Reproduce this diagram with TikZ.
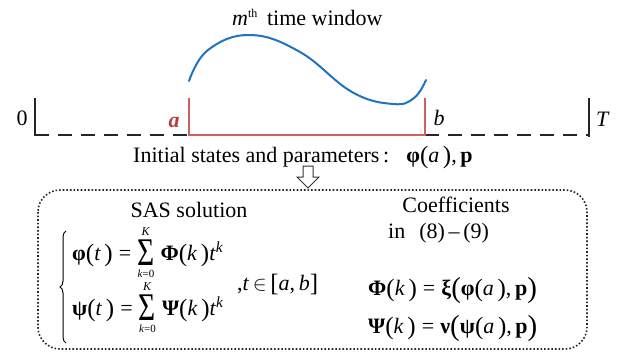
\documentclass[tikz,border=0pt]{standalone}
\usepackage{amsmath}
\usepackage{graphicx}
\usepackage{fontspec}
\setmainfont{Liberation Serif}
\usetikzlibrary{decorations.pathreplacing}
\definecolor{winred}{RGB}{208,96,96}
\definecolor{labred}{RGB}{185,60,60}
\definecolor{curveblue}{RGB}{32,115,192}
\newcommand\mysum{\mathop{\raisebox{-5pt}{\scalebox{1.05}[1.4]{\fontsize{28}{28}\selectfont Σ}}}\limits_{\hbox{\fontsize{11}{11}\selectfont\textit{k}=0}}^{\hbox{\fontsize{12}{12}\selectfont\textit{K}}}}
\newcommand\LP{{\fontsize{25}{25}\selectfont\raisebox{-1pt}{(}}}
\newcommand\RP{{\fontsize{25}{25}\selectfont\raisebox{-1pt}{)}}}
\newcommand\LB{{\fontsize{25}{25}\selectfont\raisebox{-1pt}{[}}}
\newcommand\RB{{\fontsize{25}{25}\selectfont\raisebox{-1pt}{]}}}
\newcommand\OLP{{\fontsize{29}{29}\selectfont\raisebox{-2pt}{(}}}
\newcommand\ORP{{\fontsize{29}{29}\selectfont\raisebox{-2pt}{)}}}
\begin{document}
\begin{tikzpicture}[x=1pt,y=-1pt,
  txt/.style={inner sep=0pt,font=\fontsize{22}{26}\selectfont},
  blk/.style={line width=2pt,black!85},
  dsh/.style={line width=2pt,black!85,dash pattern=on 14pt off 9pt},
  redl/.style={line width=1.6pt,winred},
  dotbox/.style={line width=1.6pt,dotted,black!85,rounded corners=22pt}]
\useasboundingbox (0,0) rectangle (623,354);
% timeline coordinates
\coordinate (L0) at (35,135); \coordinate (L0t) at (35,98);
\coordinate (A0) at (189,135); \coordinate (A0t) at (189,98);
\coordinate (B0) at (425,135); \coordinate (B0t) at (425,98);
\coordinate (T0) at (589,135); \coordinate (T0t) at (589,98);
\draw[blk] (L0t) -- (L0) -- ++(14,0);
\draw[dsh] (L0) ++(23,0) -- (A0);
\draw[blk] (B0) -- ++(14,0);
\draw[dsh] (B0) ++(23,0) -- (T0);
\draw[blk] (T0t) -- ([yshift=-2pt]T0);
\draw[redl] (A0t) -- (A0) -- (B0) -- (B0t);
% curve
\draw[curveblue,line width=2pt,line cap=round] plot[smooth,tension=0.7] coordinates
  {(189,81) (208,50) (250,35) (300,52) (352,92) (393,104) (414,98) (426,80)};
% labels
\node[txt,anchor=base west] (title) at (232,25) {\textit{m}\textsuperscript{\fontsize{12}{12}\selectfont th}\, time window};
\node[txt,anchor=base] (zero) at (22,125) {0};
\node[txt,anchor=base,text=labred] (alab) at (174,127) {\textbf{\textit{a}}};
\node[txt,anchor=base] (blab) at (439,125) {\textit{b}};
\node[txt,anchor=base] (Tlab) at (603,126) {\textit{T}};
\node[txt,anchor=base west] (init) at (133,162) {Initial states and parameters\,:\;\, \textbf{φ}\LP\textit{a}\,\RP,\,\textbf{p}};
% hollow arrow
\draw[line width=1pt,black!80,fill=white] (303,166) -- (313,166) -- (313,177) -- (319,177) -- (308,188) -- (297,177) -- (303,177) -- cycle;
% dotted box
\draw[dotbox] (38,190) rectangle (587,349);
% left part
\node[txt,anchor=base] (sas) at (189,217) {SAS solution};
\draw[line width=1pt,decorate,decoration={brace,amplitude=6pt}] (66,343) -- (66,231);
\node[txt,anchor=base west] (eq1) at (72,260) {\textbf{φ}\LP\textit{t}\,\RP\;=\;$\mysum$\;\textbf{Φ}\LP\textit{k}\,\RP\textit{t}\textsuperscript{\textit{k}}};
\node[txt,anchor=base west] (eq2) at (72,315) {\textbf{ψ}\LP\textit{t}\,\RP\;=\;$\mysum$\;\textbf{Ψ}\LP\textit{k}\,\RP\textit{t}\textsuperscript{\textit{k}}};
\node[txt,anchor=base west] (cond) at (237,290) {,\textit{t}\,$\in$\,\LB\textit{a},\,\textit{b}\RB};
% right part
\node[txt,anchor=base] (coef) at (456,212) {Coefficients};
\node[txt,anchor=base west] (inref) at (388,238) {in\hspace{14pt}(8)\,–\,(9)};
\node[txt,anchor=base west] (eq3) at (368,295) {\textbf{Φ}\LP\textit{k}\,\RP\;=\;\textbf{ξ}\OLP\textbf{φ}\LP\textit{a}\,\RP,\,\textbf{p}\ORP};
\node[txt,anchor=base west] (eq4) at (368,333) {\textbf{Ψ}\LP\textit{k}\,\RP\;=\;\textbf{ν}\OLP\textbf{ψ}\LP\textit{a}\,\RP,\,\textbf{p}\ORP};
\end{tikzpicture}
\end{document}
